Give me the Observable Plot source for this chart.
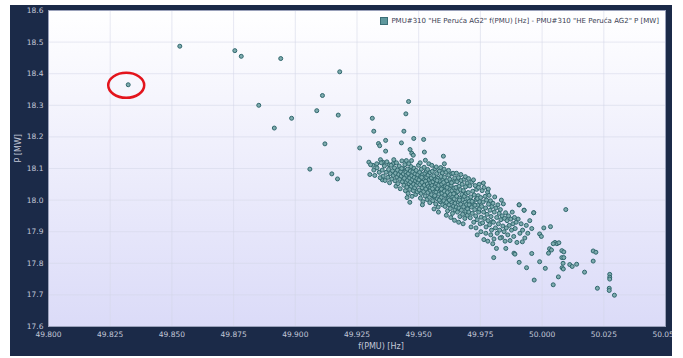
<!DOCTYPE html>
<html><head><meta charset="utf-8">
<script src="https://cdn.jsdelivr.net/npm/d3@7"></script>
<script src="https://cdn.jsdelivr.net/npm/@observablehq/plot@0.6"></script>
<style>
html,body{margin:0;padding:0;background:#fff;width:683px;height:358px;overflow:hidden;}
#panel{position:absolute;left:10px;top:5px;width:662px;height:351px;background:#1b2a48;overflow:hidden;}
#chart svg{display:block;}
#legend{position:absolute;top:12px;right:13px;font-family:"DejaVu Sans",sans-serif;font-size:7px;color:#3a4052;display:flex;align-items:center;white-space:nowrap;}
#legend .sw{display:inline-block;width:6px;height:6px;background:#5f989d;border:1px solid #3b6f76;margin-right:3px;}
</style></head>
<body>
<div id="panel"><div id="chart"></div><div id="legend"><span class="sw"></span><span id="legendText"></span></div></div>
<script>
const legendLabel = 'PMU#310 "HE Peruća AG2" f(PMU) [Hz] - PMU#310 "HE Peruća AG2" P [MW]';
const xTitle = "f(PMU) [Hz]";
const yTitle = "P [MW]";
const xTicks = [49.8, 49.825, 49.85, 49.875, 49.9, 49.925, 49.95, 49.975, 50.0, 50.025, 50.05];
const yTicks = [17.6, 17.7, 17.8, 17.9, 18.0, 18.1, 18.2, 18.3, 18.4, 18.5, 18.6];
const circledPoint = [49.8323, 18.365];

// sparse points (upper-left outliers and cluster fringe): [f Hz, P MW]
const sparsePoints = [
[49.8323,18.365],[49.8532,18.487],[49.8755,18.473],[49.8781,18.455],[49.8941,18.448],[49.9180,18.406],
[49.9110,18.331],[49.8852,18.300],[49.9087,18.283],[49.9174,18.269],[49.8985,18.259],[49.8915,18.228],
[49.9120,18.178],[49.9261,18.165],[49.9059,18.098],[49.9148,18.083],[49.9171,18.067],[49.9312,18.259],
[49.9318,18.218],[49.9459,18.312],[49.9448,18.273],[49.9440,18.218],[49.9430,18.181],[49.9480,18.195],
[49.9520,18.192],[49.9523,18.152],[49.9366,18.189],[49.9337,18.179],[49.9342,18.172],[49.9366,18.155],
[49.9345,18.128],[49.9298,18.120],[49.9314,18.110],[49.9380,18.112],[49.9395,18.115],[49.9353,18.064],
[49.9464,17.993],[49.9600,18.139],[49.9465,18.160],[49.9472,18.148],[49.9478,18.142],[49.9604,18.115],
[49.9450,18.125],[49.9355,18.120],[49.9330,18.115]
];

// dense cluster
const clusterPoints = [
[49.9305,18.112],[49.9318,18.095],[49.9322,18.078],[49.9331,18.102],[49.9340,18.088],[49.9344,18.071],[49.9348,18.118],[49.9302,18.081],
[49.9352,18.095],[49.9356,18.076],[49.9361,18.108],[49.9364,18.062],[49.9368,18.088],[49.9371,18.121],[49.9375,18.072],[49.9378,18.097],
[49.9382,18.055],[49.9385,18.084],[49.9388,18.110],[49.9391,18.067],[49.9394,18.093],[49.9397,18.078],[49.9399,18.128],
[49.9402,18.102],[49.9404,18.061],[49.9406,18.085],[49.9408,18.044],[49.9410,18.118],[49.9412,18.073],[49.9414,18.095],[49.9416,18.052],
[49.9419,18.081],[49.9421,18.108],[49.9423,18.066],[49.9425,18.036],[49.9427,18.090],[49.9429,18.076],[49.9432,18.124],[49.9434,18.058],
[49.9436,18.099],[49.9438,18.083],[49.9440,18.047],[49.9442,18.069],[49.9444,18.112],[49.9446,18.030],[49.9448,18.088],[49.9449,18.057],[49.9431,18.100],
[49.9451,18.079],[49.9452,18.041],[49.9454,18.098],[49.9455,18.063],[49.9457,18.021],[49.9458,18.084],[49.9460,18.115],[49.9461,18.052],
[49.9463,18.070],[49.9464,18.034],[49.9466,18.092],[49.9467,18.058],[49.9469,18.106],[49.9470,18.044],[49.9472,18.077],[49.9473,18.012],
[49.9475,18.065],[49.9476,18.089],[49.9478,18.030],[49.9479,18.050],[49.9481,18.101],[49.9482,18.072],[49.9484,18.039],[49.9485,18.083],
[49.9487,18.061],[49.9488,18.018],[49.9490,18.094],[49.9491,18.047],[49.9493,18.068],[49.9494,18.026],[49.9496,18.080],[49.9497,18.055],
[49.9499,18.110],[49.9453,18.008],[49.9471,18.125],
[49.9501,18.064],[49.9502,18.032],[49.9504,18.088],[49.9505,18.049],[49.9507,18.006],[49.9508,18.075],[49.9510,18.021],[49.9511,18.098],
[49.9513,18.056],[49.9514,18.039],[49.9516,18.081],[49.9517,17.995],[49.9519,18.068],[49.9520,18.027],[49.9522,18.104],[49.9523,18.047],
[49.9525,18.085],[49.9526,18.013],[49.9528,18.060],[49.9529,18.035],[49.9531,18.092],[49.9532,18.072],[49.9534,18.002],[49.9535,18.051],
[49.9537,18.024],[49.9538,18.079],[49.9540,18.043],[49.9541,18.115],[49.9543,18.065],[49.9544,18.009],[49.9546,18.087],[49.9547,18.031],
[49.9549,18.055],[49.9506,18.118],[49.9515,17.985],[49.9527,18.126],[49.9536,18.097],[49.9545,17.992],[49.9512,18.072],[49.9548,18.040],
[49.9551,18.070],[49.9552,18.017],[49.9554,18.046],[49.9555,18.091],[49.9557,17.998],[49.9558,18.058],[49.9560,18.030],[49.9561,18.077],
[49.9563,18.011],[49.9564,18.041],[49.9566,18.099],[49.9567,18.065],[49.9569,17.988],[49.9570,18.025],[49.9572,18.053],[49.9573,18.084],
[49.9575,18.004],[49.9576,18.036],[49.9578,18.069],[49.9579,17.978],[49.9581,18.047],[49.9582,18.019],[49.9584,18.092],[49.9585,18.061],
[49.9587,17.995],[49.9588,18.032],[49.9590,18.075],[49.9591,18.008],[49.9593,18.050],[49.9594,18.022],[49.9596,18.086],[49.9597,17.985],
[49.9599,18.040],[49.9553,18.110],[49.9562,17.972],[49.9571,18.105],[49.9580,17.962],[49.9589,18.103],[49.9598,18.063],[49.9556,18.036],
[49.9565,18.014],[49.9574,18.062],[49.9583,18.000],[49.9592,18.035],
[49.9601,18.056],[49.9602,17.998],[49.9604,18.028],[49.9605,18.072],[49.9607,17.980],[49.9608,18.043],[49.9610,18.012],[49.9611,18.088],
[49.9613,17.993],[49.9614,18.061],[49.9616,18.024],[49.9617,17.966],[49.9619,18.050],[49.9620,18.005],[49.9622,18.079],[49.9623,17.985],
[49.9625,18.036],[49.9626,18.066],[49.9628,17.973],[49.9629,18.018],[49.9631,18.047],[49.9632,17.995],[49.9634,18.083],[49.9635,18.030],
[49.9637,17.958],[49.9638,18.010],[49.9640,18.058],[49.9641,17.981],[49.9643,18.038],[49.9644,18.004],[49.9646,18.070],[49.9647,17.969],
[49.9649,18.022],[49.9603,18.098],[49.9612,17.952],[49.9621,18.094],[49.9630,17.945],[49.9639,18.085],[49.9648,17.990],[49.9606,18.016],
[49.9615,18.040],[49.9624,18.000],[49.9633,18.055],[49.9642,18.020],[49.9645,17.936],
[49.9651,18.040],[49.9652,17.978],[49.9654,18.012],[49.9655,18.058],[49.9657,17.962],[49.9658,18.027],[49.9660,17.994],[49.9661,18.071],
[49.9663,17.975],[49.9664,18.044],[49.9666,18.006],[49.9667,17.948],[49.9669,18.033],[49.9670,17.987],[49.9672,18.062],[49.9673,17.968],
[49.9675,18.018],[49.9676,18.050],[49.9678,17.955],[49.9679,18.001],[49.9681,18.030],[49.9682,17.979],[49.9684,18.066],[49.9685,18.012],
[49.9687,17.942],[49.9688,17.993],[49.9690,18.042],[49.9691,17.965],[49.9693,18.021],[49.9694,17.986],[49.9696,18.054],[49.9697,17.952],
[49.9699,18.005],[49.9653,18.085],[49.9662,17.930],[49.9671,18.081],[49.9680,17.925],[49.9689,18.074],[49.9698,17.972],[49.9665,18.000],
[49.9701,18.024],[49.9703,17.962],[49.9705,17.996],[49.9707,18.045],[49.9709,17.944],[49.9711,18.010],[49.9713,17.978],[49.9715,18.057],
[49.9717,17.958],[49.9719,18.028],[49.9721,17.990],[49.9723,17.930],[49.9725,18.016],[49.9727,17.970],[49.9729,18.046],[49.9731,17.950],
[49.9733,18.002],[49.9735,18.034],[49.9737,17.938],[49.9739,17.984],[49.9741,18.014],[49.9743,17.962],[49.9745,18.050],[49.9747,17.995],
[49.9749,17.925],[49.9702,18.068],[49.9712,17.915],[49.9722,18.064],[49.9732,17.912],[49.9742,18.040],[49.9746,17.972],[49.9704,17.985],
[49.9716,17.996],[49.9728,17.984],[49.9738,18.005],
[49.9751,18.008],[49.9753,17.946],[49.9755,17.980],[49.9757,18.030],[49.9759,17.928],[49.9761,17.994],[49.9763,17.962],[49.9765,18.040],
[49.9767,17.942],[49.9769,18.012],[49.9771,17.975],[49.9773,17.915],[49.9775,18.000],[49.9777,17.955],[49.9779,18.025],[49.9781,17.935],
[49.9783,17.987],[49.9785,18.015],[49.9787,17.922],[49.9789,17.968],[49.9791,17.998],[49.9793,17.948],[49.9795,17.905],[49.9797,17.980],
[49.9799,17.932],[49.9752,17.900],[49.9762,18.054],[49.9772,17.895],[49.9782,18.035],[49.9792,17.890],
[49.9801,17.990],[49.9803,17.930],[49.9806,17.962],[49.9808,18.010],[49.9811,17.912],[49.9813,17.975],[49.9816,17.945],[49.9818,17.895],
[49.9821,17.985],[49.9823,17.925],[49.9826,17.958],[49.9828,17.905],[49.9831,17.970],[49.9833,17.938],[49.9836,17.882],[49.9838,17.950],
[49.9841,17.918],[49.9843,17.988],[49.9846,17.900],[49.9848,17.942],[49.9805,17.877],[49.9835,18.000],
[49.9852,17.960],[49.9855,17.912],[49.9858,17.935],[49.9861,17.890],[49.9864,17.950],[49.9867,17.920],[49.9870,17.872],[49.9873,17.940],
[49.9876,17.905],[49.9879,17.962],[49.9882,17.925],[49.9885,17.885],[49.9888,17.945],[49.9891,17.910],[49.9895,17.930],
[49.9903,17.940],[49.9907,17.985],[49.9910,17.895],[49.9915,17.925],[49.9921,17.905],[49.9927,17.968],[49.9930,17.880],[49.9936,17.920],
[49.9942,17.895],[49.9950,17.935],[49.9958,17.910],[49.9966,17.960]
];

// lower-right tail
const tailPoints = [
[50.0096,17.970],[49.9966,17.960],[49.9927,17.968],[49.9907,17.985],[50.0034,17.916],[50.0007,17.912],[49.9990,17.893],[49.9997,17.885],
[50.0052,17.866],[50.0060,17.862],[50.0068,17.865],[50.0030,17.846],[50.0038,17.842],[50.0026,17.832],[50.0080,17.840],[50.0088,17.836],
[50.0080,17.818],[50.0088,17.818],[50.0085,17.800],[50.0081,17.786],[50.0086,17.782],[50.0112,17.796],[50.0122,17.790],[50.0140,17.797],
[50.0172,17.772],[50.0066,17.757],[50.0045,17.732],[49.9968,17.747],[49.9990,17.805],[49.9937,17.786],[49.9907,17.803],[49.9958,17.831],
[49.9886,17.832],[49.9890,17.829],[49.9804,17.818],[49.9815,17.847],[49.9853,17.847],[49.9898,17.866],[49.9920,17.868],[49.9764,17.875],
[49.9737,17.890],[49.9800,17.862],[50.0013,17.784],[50.0207,17.839],[50.0218,17.835],[50.0207,17.807],[50.0274,17.765],[50.0274,17.756],
[50.0274,17.750],[50.0224,17.721],[50.0272,17.721],[50.0272,17.714],[50.0293,17.699],[50.0045,17.862],[49.9850,17.870],[49.9830,17.880],
[49.9780,17.870]
];

const data = [...sparsePoints, ...clusterPoints, ...tailPoints].map(([f, p]) => ({f, p}));
document.getElementById("legendText").textContent = legendLabel;

const tickColor = "#c3c8d8";
const plot = Plot.plot({
  width: 662, height: 351,
  marginLeft: 38, marginTop: 5, marginRight: 7, marginBottom: 30,
  style: {background: "transparent", fontFamily: "DejaVu Sans, sans-serif", fontSize: "7.5px", color: tickColor, overflow: "hidden"},
  x: {domain: [49.8, 50.05], ticks: xTicks, tickFormat: d3.format(".3f"), tickSize: 0, tickPadding: 5, label: null},
  y: {domain: [17.6, 18.6], ticks: yTicks, tickFormat: d3.format(".1f"), tickSize: 0, tickPadding: 5, label: null},
  marks: [
    Plot.frame({fill: "url(#bgGrad)", stroke: "none"}),
    Plot.ruleX(xTicks, {stroke: "#d4d7e8", strokeOpacity: 0.55}),
    Plot.ruleY(yTicks, {stroke: "#d4d7e8", strokeOpacity: 0.55}),
    Plot.frame({stroke: "#9aa1ba", fill: "none"}),
    Plot.dot(data, {x: "f", y: "p", r: 2, fill: "#7eabae", stroke: "#30676d", strokeWidth: 1}),
    Plot.text([xTitle], {frameAnchor: "bottom", dy: 22, dx: 24, text: d => d, fill: tickColor, fontSize: 8}),
    Plot.text([yTitle], {frameAnchor: "left", dx: -30, dy: -6, rotate: -90, text: d => d, fill: tickColor, fontSize: 8})
  ]
});
document.getElementById("chart").appendChild(plot);

const svg = d3.select(plot);
const grad = svg.insert("defs", ":first-child").append("linearGradient")
  .attr("id", "bgGrad").attr("x1", 0).attr("y1", 0).attr("x2", 0).attr("y2", 1);
grad.append("stop").attr("offset", "0%").attr("stop-color", "#ffffff");
grad.append("stop").attr("offset", "100%").attr("stop-color", "#dbdbf8");

const sx = plot.scale("x"), sy = plot.scale("y");
svg.append("ellipse")
  .attr("cx", sx.apply(circledPoint[0]) - 1.5)
  .attr("cy", sy.apply(circledPoint[1]) + 1)
  .attr("rx", 18).attr("ry", 12.5)
  .attr("fill", "none").attr("stroke", "#e3141c").attr("stroke-width", 2.5);
</script>
</body></html>
